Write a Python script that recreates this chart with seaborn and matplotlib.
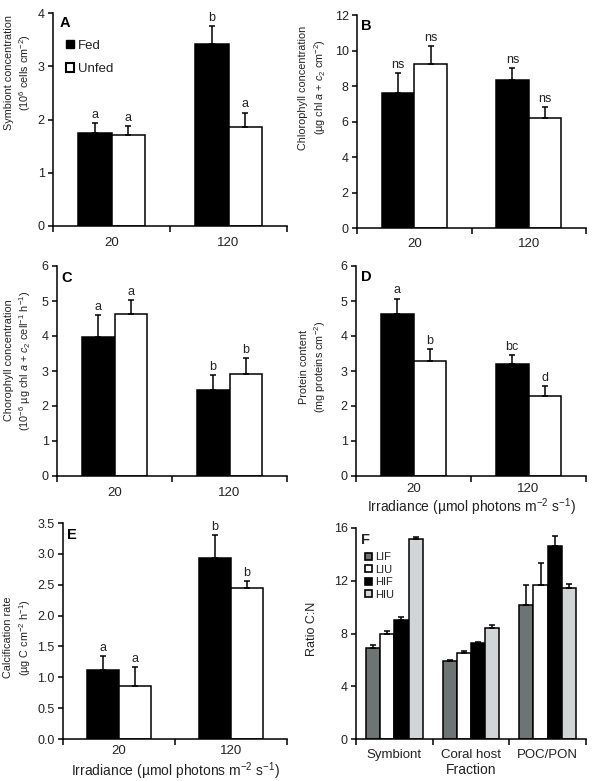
import numpy as np
import pandas as pd
import matplotlib
matplotlib.use("Agg")
import matplotlib.pyplot as plt
import seaborn as sns
from matplotlib.patches import Patch
from matplotlib.container import BarContainer
from matplotlib.ticker import FixedLocator, FixedFormatter, NullFormatter, MultipleLocator, FormatStrFormatter

# ---------------- data ----------------
irradiance = ["20", "120"]
feeding = ["Fed", "Unfed"]

sym_fed = [1.74, 3.42]
sym_fed_se = [0.20, 0.33]
sym_unfed = [1.71, 1.86]
sym_unfed_se = [0.17, 0.27]
sym_letters = [["a", "b"], ["a", "a"]]

chl_fed = [7.62, 8.33]
chl_fed_se = [1.09, 0.66]
chl_unfed = [9.23, 6.21]
chl_unfed_se = [1.04, 0.58]
chl_letters = [["ns", "ns"], ["ns", "ns"]]

chlc_fed = [3.97, 2.47]
chlc_fed_se = [0.64, 0.41]
chlc_unfed = [4.62, 2.92]
chlc_unfed_se = [0.40, 0.46]
chlc_letters = [["a", "b"], ["a", "b"]]

prot_fed = [4.64, 3.19]
prot_fed_se = [0.43, 0.26]
prot_unfed = [3.30, 2.30]
prot_unfed_se = [0.33, 0.26]
prot_letters = [["a", "bc"], ["b", "d"]]

calc_fed = [1.11, 2.94]
calc_fed_se = [0.23, 0.36]
calc_unfed = [0.86, 2.45]
calc_unfed_se = [0.30, 0.11]
calc_letters = [["a", "b"], ["a", "b"]]

fractions = ["Symbiont", "Coral host", "POC/PON"]
treatments = ["LIF", "LIU", "HIF", "HIU"]
cn_LIF = [6.90, 5.92, 10.14]
cn_LIF_se = [0.20, 0.07, 1.51]
cn_LIU = [7.93, 6.52, 11.70]
cn_LIU_se = [0.25, 0.15, 1.67]
cn_HIF = [9.00, 7.28, 14.60]
cn_HIF_se = [0.26, 0.07, 0.77]
cn_HIU = [15.14, 8.44, 11.45]
cn_HIU_se = [0.16, 0.18, 0.28]

# ---------------- style ----------------
sns.set_style("ticks")
plt.rcParams["font.family"] = ["Liberation Sans", "DejaVu Sans"]
plt.rcParams["mathtext.fontset"] = "custom"
plt.rcParams["mathtext.rm"] = "Liberation Sans"
plt.rcParams["mathtext.it"] = "Liberation Sans:italic"
plt.rcParams["mathtext.bf"] = "Liberation Sans:bold"
plt.rcParams["mathtext.default"] = "regular"

TXT = "#222222"
LW = 1.1

fig = plt.figure(figsize=(5.92, 7.81), dpi=100)


def rect(l, r, t, b):
    return [l / 592, 1 - b / 781, (r - l) / 592, (b - t) / 781]


def bar_containers(ax):
    return [c for c in ax.containers if isinstance(c, BarContainer)]


def style_axes(ax, ncat, labels, ymax, ystep, pad, fmt=None):
    sns.despine(ax=ax)
    for s in ["left", "bottom"]:
        ax.spines[s].set_linewidth(LW)
        ax.spines[s].set_color("black")
    ax.set_xlim(-0.5, ncat - 0.5)
    ax.set_ylim(0, ymax)
    ax.yaxis.set_major_locator(MultipleLocator(ystep))
    if fmt:
        ax.yaxis.set_major_formatter(FormatStrFormatter(fmt))
    ax.xaxis.set_major_locator(FixedLocator(list(np.arange(-0.5, ncat, 1.0))))
    ax.xaxis.set_major_formatter(NullFormatter())
    ax.xaxis.set_minor_locator(FixedLocator(list(range(ncat))))
    ax.xaxis.set_minor_formatter(FixedFormatter(labels))
    ax.tick_params(axis="x", which="major", length=4, width=LW, direction="out", color="black")
    ax.tick_params(axis="x", which="minor", length=0, pad=pad, labelsize=9.5, labelcolor=TXT)
    ax.tick_params(axis="y", which="major", length=3.5, width=LW, direction="out", pad=2.5,
                   labelsize=9, labelcolor=TXT, color="black")
    ax.set_xlabel("")
    ax.set_ylabel("")


def two_group_panel(rc, fed, fed_se, unfed, unfed_se, letters, ymax, ystep, pad,
                    ylabel, ylab_xy, letter, letter_xy, fmt=None, xlabel=None, xlab_y=None):
    ax = fig.add_axes(rect(*rc))
    df = pd.DataFrame({
        "irr": irradiance * 2,
        "feed": [feeding[0]] * 2 + [feeding[1]] * 2,
        "val": list(fed) + list(unfed),
    })
    sns.barplot(data=df, x="irr", y="val", hue="feed", order=irradiance, hue_order=feeding,
                palette=["black", "white"], edgecolor="black", linewidth=LW, width=0.57,
                errorbar=None, legend=False, ax=ax, saturation=1)
    errs = [fed_se, unfed_se]
    for hi, cont in enumerate(bar_containers(ax)):
        xs = [p.get_x() + p.get_width() / 2 for p in cont.patches]
        hs = [p.get_height() for p in cont.patches]
        ax.errorbar(xs, hs, yerr=[[0] * len(hs), errs[hi]], fmt="none", ecolor="black",
                    elinewidth=LW, capsize=2.5, capthick=LW, zorder=5)
        for x, h, e, lab in zip(xs, hs, errs[hi], letters[hi]):
            ax.annotate(lab, (x, h + e), xytext=(0, 1.5), textcoords="offset points",
                        ha="center", va="bottom", fontsize=9, color=TXT)
    style_axes(ax, 2, irradiance, ymax, ystep, pad, fmt)
    ax.set_ylabel(ylabel, fontsize=7.8, color=TXT, linespacing=1.3,
                  family=["Liberation Sans Narrow", "Liberation Sans", "DejaVu Sans"])
    ax.yaxis.set_label_coords(*ylab_xy)
    ax.text(letter_xy[0], letter_xy[1], letter, transform=ax.transAxes, fontsize=10.5,
            fontweight="bold", ha="left", va="top", color="black")
    if xlabel:
        ax.set_xlabel(xlabel, fontsize=10, color=TXT)
        ax.xaxis.set_label_coords(0.5, xlab_y)
    return ax


irr_label = "Irradiance (µmol photons m$^{-2}$ s$^{-1}$)"

axA = two_group_panel((53, 287, 13, 226), sym_fed, sym_fed_se, sym_unfed, sym_unfed_se,
                      sym_letters, 4, 1, 8,
                      "Symbiont concentration\n(10$^{6}$ cells cm$^{-2}$)", (-0.085, 0.72),
                      "A", (0.03, 0.985))
leg_handles = [Patch(facecolor="black", edgecolor="black", linewidth=1.0),
               Patch(facecolor="white", edgecolor="black", linewidth=1.5)]
axA.legend(leg_handles, feeding, loc="upper left", bbox_to_anchor=(0.055, 0.875), frameon=False,
           fontsize=9.5, handlelength=0.65, handleheight=0.65, handletextpad=0.25,
           labelspacing=0.85, borderpad=0, borderaxespad=0, labelcolor=TXT)

two_group_panel((357, 586, 15, 228), chl_fed, chl_fed_se, chl_unfed, chl_unfed_se,
                chl_letters, 12, 2, 7.5,
                "Chlorophyll concentration\n(µg chl $\\mathit{a}$ + $\\mathit{c}_{2}$ cm$^{-2}$)",
                (-0.128, 0.66), "B", (0.017, 0.98))

two_group_panel((57, 287, 266, 476), chlc_fed, chlc_fed_se, chlc_unfed, chlc_unfed_se,
                chlc_letters, 6, 1, 8,
                "Chorophyll concentration\n(10$^{-6}$ µg chl $\\mathit{a}$ + $\\mathit{c}_{2}$ cell$^{-1}$ h$^{-1}$)",
                (-0.105, 0.55), "C", (0.02, 0.975))

two_group_panel((356, 586, 266, 476), prot_fed, prot_fed_se, prot_unfed, prot_unfed_se,
                prot_letters, 6, 1, 5,
                "Protein content\n(mg proteins cm$^{-2}$)", (-0.12, 0.52), "D", (0.02, 0.98),
                xlabel=irr_label, xlab_y=-0.095)

two_group_panel((63, 287, 523, 739), calc_fed, calc_fed_se, calc_unfed, calc_unfed_se,
                calc_letters, 3.5, 0.5, 4.5,
                "Calcification rate\n(µg C cm$^{-2}$ h$^{-1}$)", (-0.135, 0.47), "E", (0.02, 0.975),
                fmt="%.1f", xlabel=irr_label, xlab_y=-0.098)

# ---------------- panel F ----------------
axF = fig.add_axes(rect(356, 586, 528, 739))
cn_vals = [cn_LIF, cn_LIU, cn_HIF, cn_HIU]
cn_errs = [cn_LIF_se, cn_LIU_se, cn_HIF_se, cn_HIU_se]
rows = []
for t, vals in zip(treatments, cn_vals):
    for f, v in zip(fractions, vals):
        rows.append({"frac": f, "trt": t, "val": v})
dfF = pd.DataFrame(rows)
colF = ["#6e7474", "white", "black", "#d2d5d5"]
sns.barplot(data=dfF, x="frac", y="val", hue="trt", order=fractions, hue_order=treatments,
            palette=colF, edgecolor="black", linewidth=LW, width=0.74, errorbar=None,
            legend=False, ax=axF, saturation=1)
for hi, cont in enumerate(bar_containers(axF)):
    xs = [p.get_x() + p.get_width() / 2 for p in cont.patches]
    hs = [p.get_height() for p in cont.patches]
    axF.errorbar(xs, hs, yerr=[[0] * len(hs), cn_errs[hi]], fmt="none", ecolor="black",
                 elinewidth=LW, capsize=2.2, capthick=LW, zorder=5)
style_axes(axF, 3, fractions, 16, 4, 7)
axF.set_ylabel("Ratio C:N", fontsize=9, color=TXT)
axF.yaxis.set_label_coords(-0.165, 0.52)
axF.set_xlabel("Fraction", fontsize=10, color=TXT)
axF.xaxis.set_label_coords(0.5, -0.115)
axF.text(0.02, 0.975, "F", transform=axF.transAxes, fontsize=10.5, fontweight="bold",
         ha="left", va="top")
handlesF = [Patch(facecolor=c, edgecolor="black", linewidth=1.2) for c in colF]
axF.legend(handlesF, treatments, loc="upper left", bbox_to_anchor=(0.04, 0.885), frameon=False,
           fontsize=8, handlelength=0.6, handleheight=0.6, handletextpad=0.25,
           labelspacing=0.22, borderpad=0, borderaxespad=0, labelcolor=TXT)

fig.savefig("out.png", dpi=100, facecolor="white")
